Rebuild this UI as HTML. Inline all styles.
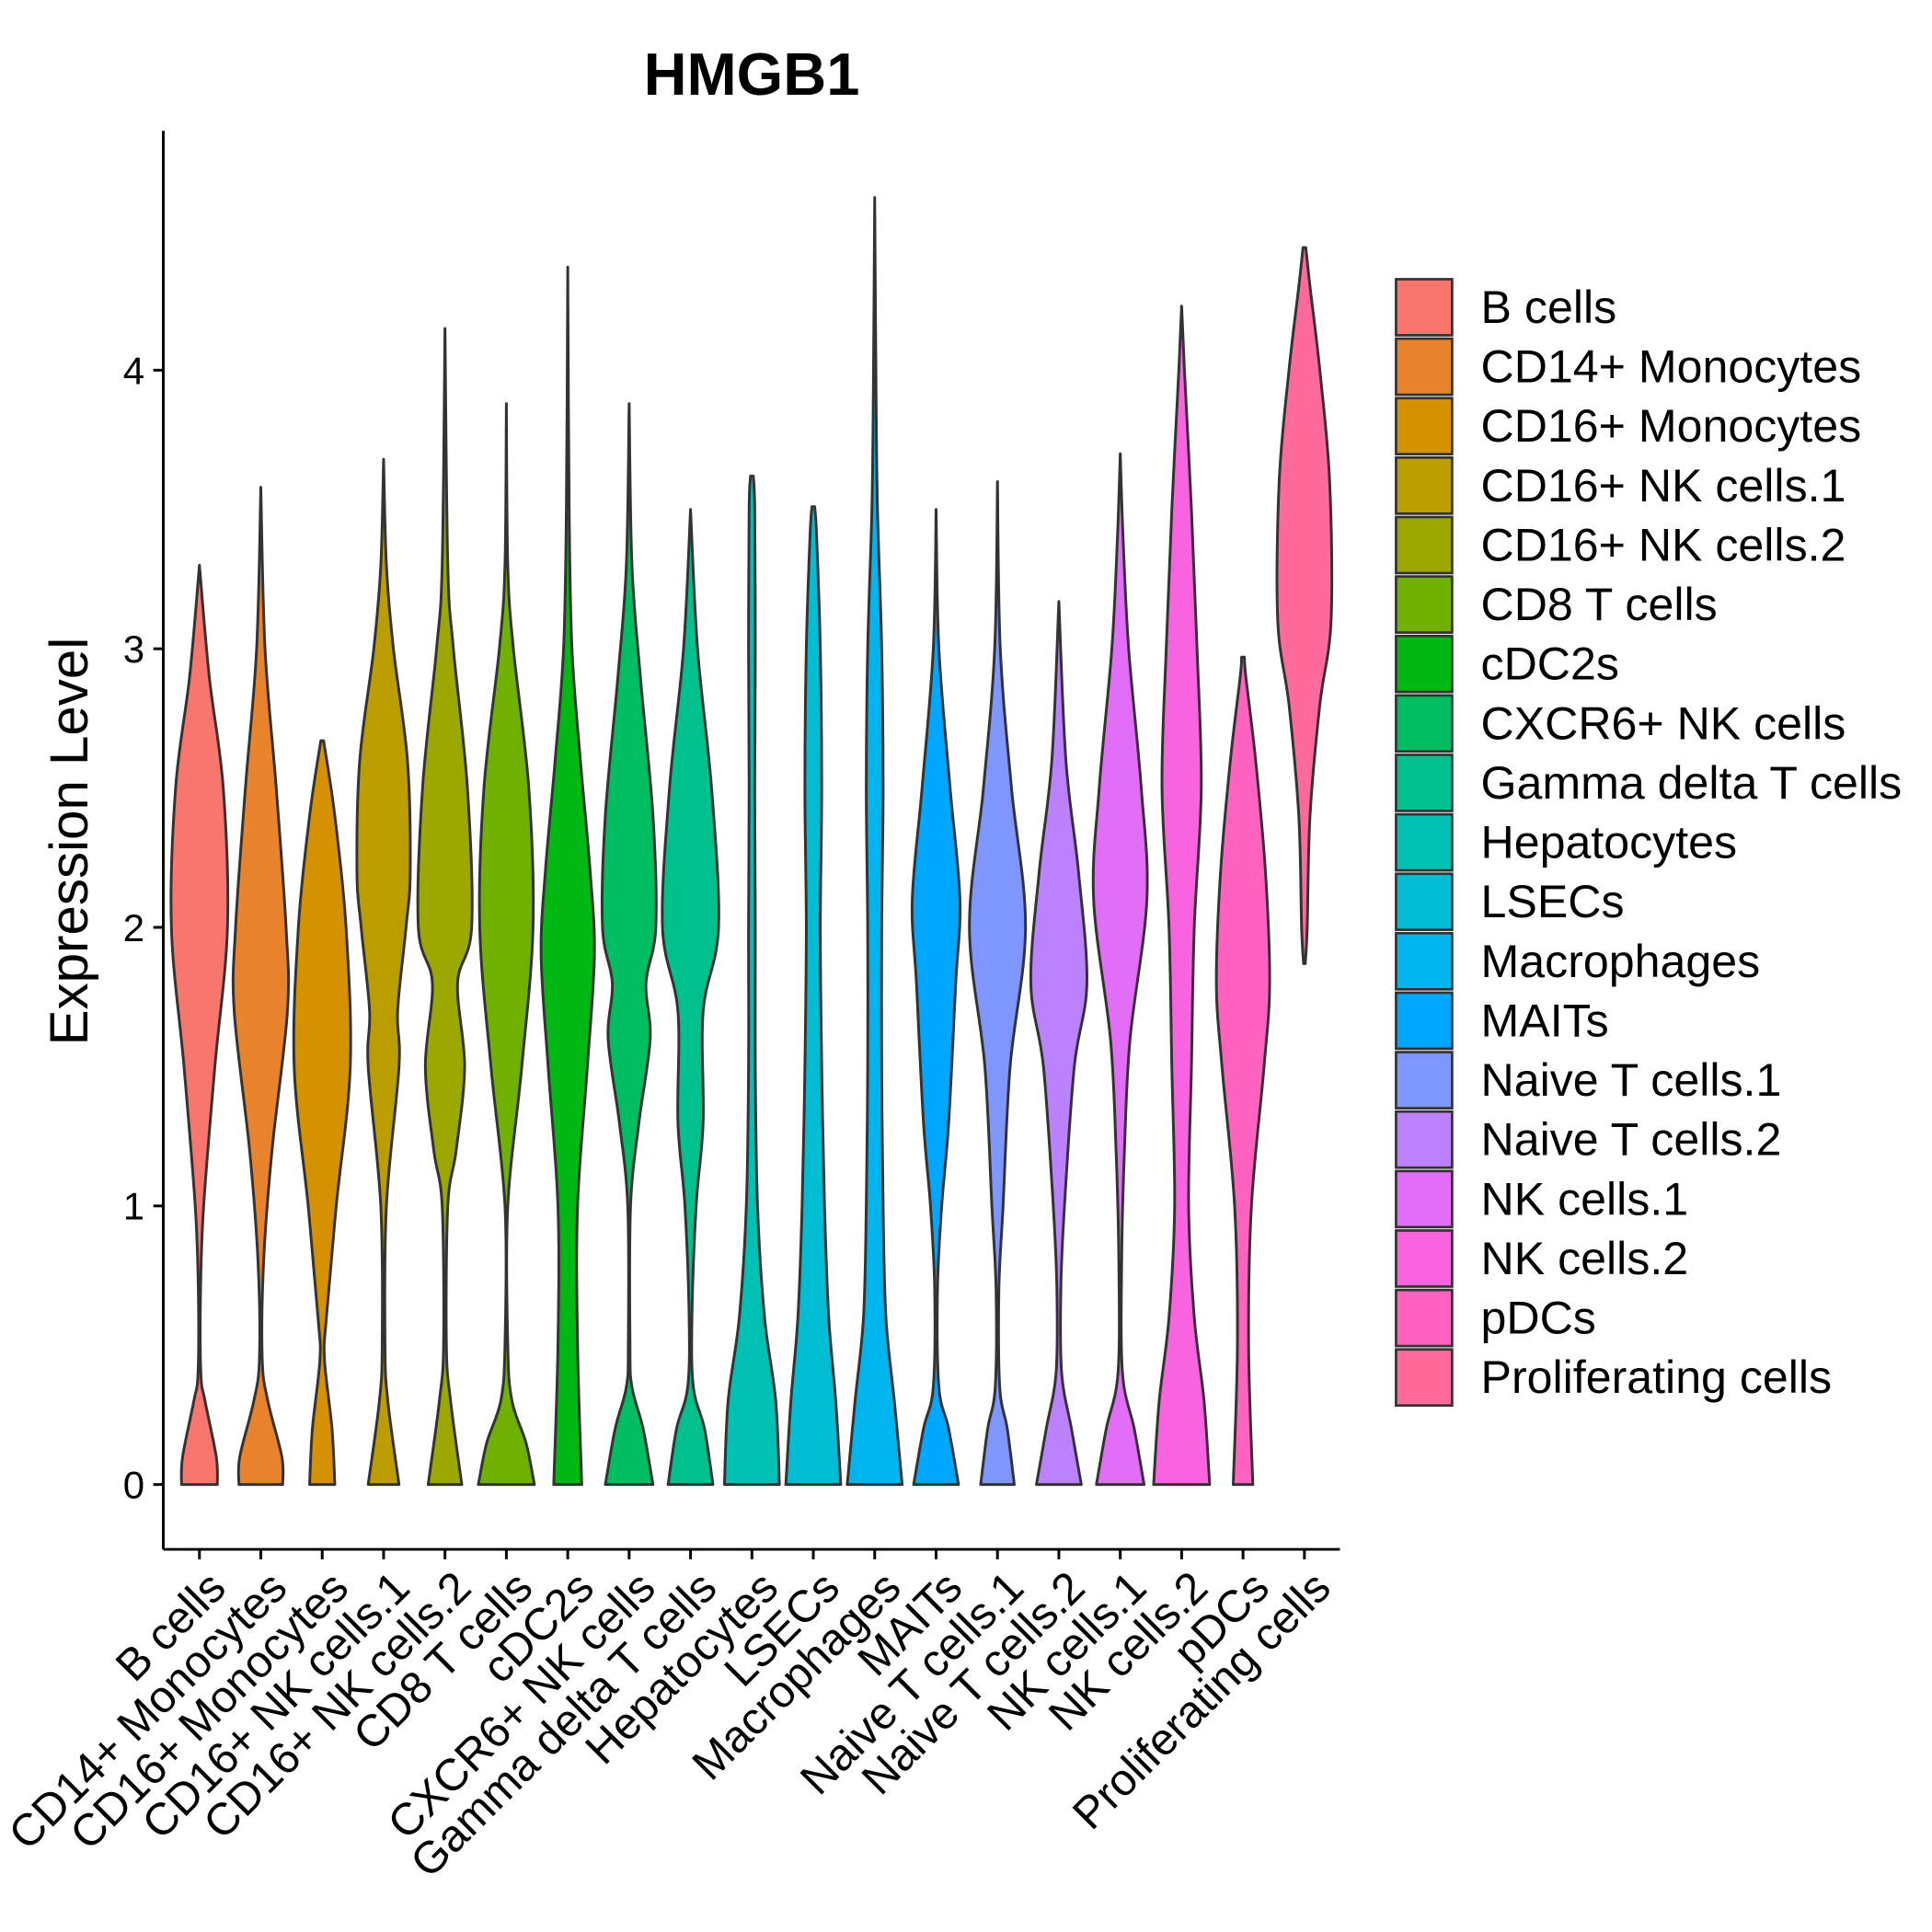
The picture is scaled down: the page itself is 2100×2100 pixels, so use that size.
<!DOCTYPE html>
<html><head><meta charset="utf-8"><style>
html,body{margin:0;padding:0;background:#fff}
svg{display:block;font-family:"Liberation Sans",Arial,sans-serif}
</style></head><body>
<svg id="chart" width="2100" height="2100" viewBox="0 0 1550 1550" xmlns="http://www.w3.org/2000/svg">
<rect width="1550" height="1550" fill="#fff"/>
<text x="603" y="76" text-anchor="middle" font-size="48" font-weight="bold">HMGB1</text>
<text transform="translate(70,675) rotate(-90)" text-anchor="middle" font-size="43">Expression Level</text>
<g id="plot"></g>
<g id="legend"></g>
</svg>
<script>
const categories=["B cells","CD14+ Monocytes","CD16+ Monocytes","CD16+ NK cells.1","CD16+ NK cells.2","CD8 T cells","cDC2s","CXCR6+ NK cells","Gamma delta T cells","Hepatocytes","LSECs","Macrophages","MAITs","Naive T cells.1","Naive T cells.2","NK cells.1","NK cells.2","pDCs","Proliferating cells"];
const colors=["#F8766D","#E9842C","#D69100","#BC9D00","#9CA700","#6FB000","#00B813","#00BD61","#00C08E","#00C0B4","#00BDD4","#00B5EE","#00A7FF","#7F96FF","#BC81FF","#E26EF7","#F863DF","#FF62BF","#FF6A9A"];
const yTicks=[0,1,2,3,4];
// density profiles: [expression value, relative half-width]
const d0=[[0,.64],[0.1,.6],[0.3,.2],[0.4,.05],[0.7,.04],[1.0,.15],[1.5,.55],[2.0,1.0],[2.5,.85],[2.9,.35],[3.3,0]];
const d1=[[0,.78],[0.1,.75],[0.3,.25],[0.45,.05],[0.8,.1],[1.2,.4],[1.7,.95],[2.0,.9],[2.5,.55],[3.0,.15],[3.58,0]];
const d2=[[0,.45],[0.2,.35],[0.45,.08],[0.6,.15],[1.0,.5],[1.5,1.0],[2.0,.85],[2.4,.45],[2.67,.05]];
const d3=[[0,.55],[0.3,.15],[0.5,.05],[1.0,.1],[1.5,.55],[1.7,.5],[2.0,.8],[2.2,.95],[2.6,.85],[3.0,.35],[3.3,.1],[3.68,0]];
const d4=[[0,.6],[0.3,.2],[0.5,.05],[1.0,.1],[1.2,.4],[1.5,.7],[1.8,.45],[2.0,.95],[2.5,.8],[3.0,.3],[3.3,.1],[4.15,0]];
const d5=[[0,1.0],[0.15,.7],[0.3,.2],[0.5,.05],[1.0,.05],[1.5,.55],[2.0,.95],[2.5,.8],[3.0,.25],[3.3,.05],[3.88,0]];
const d6=[[0,.5],[0.5,.35],[1.0,.35],[1.5,.7],[1.9,.95],[2.2,.8],[2.6,.45],[3.0,.15],[3.5,.05],[4.37,0]];
const d7=[[0,.85],[0.2,.5],[0.35,.1],[0.5,.03],[1.0,.05],[1.3,.35],[1.6,.75],[1.8,.6],[2.0,.95],[2.4,.85],[2.9,.4],[3.3,.1],[3.88,0]];
const d8=[[0,.8],[0.2,.5],[0.35,.1],[0.6,.05],[1.0,.2],[1.3,.45],[1.7,.45],[2.0,1.0],[2.5,.75],[3.0,.25],[3.5,0]];
const d9=[[0,.98],[0.3,.85],[0.6,.45],[1.0,.2],[1.5,.12],[2.0,.12],[2.5,.1],[3.0,.12],[3.5,.1],[3.62,.05]];
const d10=[[0,.98],[0.3,.8],[0.6,.55],[1.0,.4],[1.5,.3],[2.0,.25],[2.5,.3],[3.0,.25],[3.4,.12],[3.51,.05]];
const d11=[[0,.98],[0.3,.7],[0.6,.4],[1.0,.3],[1.5,.25],[2.0,.25],[2.5,.3],[3.0,.25],[3.5,.1],[3.9,.05],[4.62,0]];
const d12=[[0,.8],[0.2,.45],[0.35,.1],[0.7,.05],[1.0,.2],[1.3,.45],[1.8,.7],[2.1,.85],[2.5,.5],[3.0,.1],[3.5,0]];
const d13=[[0,.6],[0.2,.35],[0.35,.08],[0.7,.05],[1.0,.2],[1.5,.45],[2.0,1.0],[2.5,.5],[3.0,.1],[3.6,0]];
const d14=[[0,.8],[0.2,.45],[0.4,.1],[0.7,.07],[1.0,.2],[1.5,.55],[1.8,1.0],[2.2,.7],[2.6,.25],[3.17,0]];
const d15=[[0,.85],[0.2,.5],[0.4,.08],[0.8,.05],[1.2,.15],[1.6,.35],[2.1,.95],[2.5,.75],[3.0,.3],[3.4,.1],[3.7,0]];
const d16=[[0,1.0],[0.3,.8],[0.6,.45],[1.0,.25],[1.5,.35],[2.0,.45],[2.5,.7],[3.0,.55],[3.5,.35],[4.0,.1],[4.23,0]];
const d17=[[0,.35],[0.5,.2],[1.0,.3],[1.5,.75],[1.8,.95],[2.2,.8],[2.6,.45],[2.9,.1],[2.97,.05]];
const d18=[[1.87,.03],[2.0,.1],[2.4,.2],[2.8,.55],[3.1,.95],[3.6,.9],[4.0,.55],[4.3,.2],[4.44,.05]];
const densities=[d0,d1,d2,d3,d4,d5,d6,d7,d8,d9,d10,d11,d12,d13,d14,d15,d16,d17,d18];

const NS="http://www.w3.org/2000/svg";
const L=131,R=1075,T=105,B=1243;
const yScale=v=>1191-v*223.5;
const xScale=i=>160+i*49.25;
const HW=22.5;
const plot=document.getElementById('plot');
function mk(tag,attrs,parent){const e=document.createElementNS(NS,tag);for(const k in attrs)e.setAttribute(k,attrs[k]);parent.appendChild(e);return e;}

function smooth(pts){
  let d="M"+pts[0][0]+","+pts[0][1];
  for(let i=0;i<pts.length-1;i++){
    const p0=pts[Math.max(0,i-1)],p1=pts[i],p2=pts[i+1],p3=pts[Math.min(pts.length-1,i+2)];
    const c1=[p1[0]+(p2[0]-p0[0])/6,p1[1]+(p2[1]-p0[1])/6];
    const c2=[p2[0]-(p3[0]-p1[0])/6,p2[1]-(p3[1]-p1[1])/6];
    d+=" C"+c1[0].toFixed(2)+","+c1[1].toFixed(2)+" "+c2[0].toFixed(2)+","+c2[1].toFixed(2)+" "+p2[0].toFixed(2)+","+p2[1].toFixed(2);
  }
  return d;
}

densities.forEach((dens,i)=>{
  const cx=xScale(i);
  const right=dens.map(p=>[cx+p[1]*HW,yScale(p[0])]);
  const left=dens.slice().reverse().map(p=>[cx-p[1]*HW,yScale(p[0])]);
  let d=smooth(right);
  d+=" L"+left[0][0]+","+left[0][1];
  d+=smooth(left).replace(/^M[^ ]+/,"");
  d+=" Z";
  const el=mk('path',{d:d,fill:colors[i],stroke:"#333",'stroke-width':2.2,'stroke-linejoin':'round'},plot);
  
  
});

const ya=mk('line',{x1:L,y1:T,x2:L,y2:B,stroke:"#000",'stroke-width':2.2},plot);


const xa=mk('line',{x1:L,y1:B,x2:R,y2:B,stroke:"#000",'stroke-width':2.2},plot);


yTicks.forEach(v=>{
  const y=yScale(v);
  const t=mk('line',{x1:L-8,y1:y,x2:L,y2:y,stroke:"#000",'stroke-width':2.2},plot);
  
  
  const tx=mk('text',{x:L-15,y:y+11,'text-anchor':'end','font-size':31},plot);
  
  
  tx.textContent=v;
});
categories.forEach((c,i)=>{
  const x=xScale(i);
  const t=mk('line',{x1:x,y1:B,x2:x,y2:B+8,stroke:"#000",'stroke-width':2.2},plot);
  
  
  const tx=mk('text',{transform:"translate("+(x+14)+","+(B+24)+") rotate(-45)",'text-anchor':'end','font-size':36,dy:"0.35em"},plot);
  
  
  tx.textContent=c;
});
const lg=document.getElementById('legend');
categories.forEach((c,i)=>{
  const y=224+i*47.7;
  const r=mk('rect',{x:1120,y:y,width:45,height:45,fill:colors[i],stroke:"#333",'stroke-width':2},lg);
  
  
  const tx=mk('text',{x:1188,y:y+35,'font-size':37},lg);
  
  
  tx.textContent=c;
});
</script>
</body></html>
